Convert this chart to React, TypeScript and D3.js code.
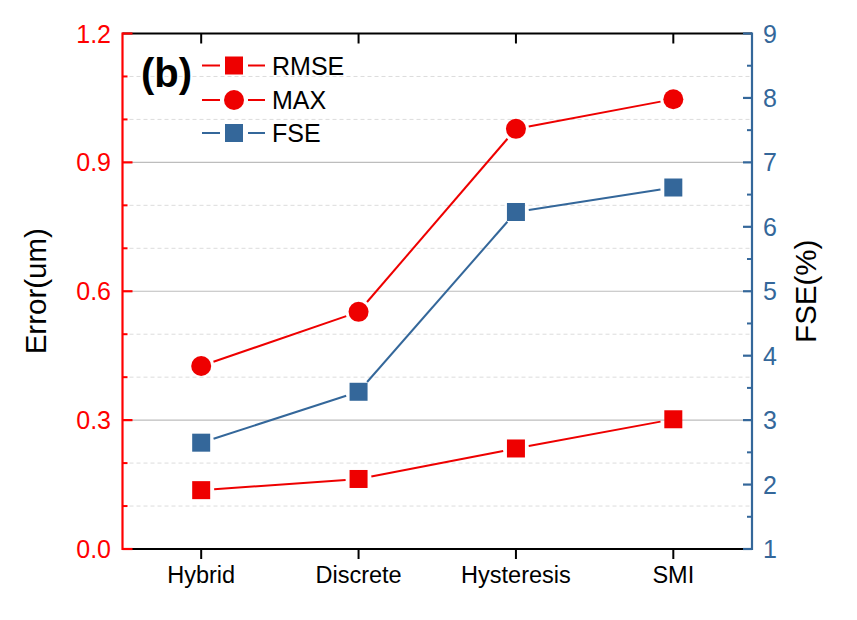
import React from "react";
import * as d3 from "d3";

const categories = ["Hybrid", "Discrete", "Hysteresis", "SMI"];
const rmse = [0.137, 0.163, 0.234, 0.302];
const maxErr = [0.426, 0.552, 0.978, 1.047];
const fse = [2.65, 3.44, 6.23, 6.61];
const leftTicks = [0, 0.3, 0.6, 0.9, 1.2];
const leftMinor = [0.1, 0.2, 0.4, 0.5, 0.7, 0.8, 1.0, 1.1];
const rightTicks = [1, 2, 3, 4, 5, 6, 7, 8, 9];
const rightMinor = [1.5, 2.5, 3.5, 4.5, 5.5, 6.5, 7.5, 8.5];

const W = 857, H = 620;
const L = 122.5, R = 752, T = 33.5, B = 549;
const RED = "#EE0000";
const AXRED = "#FF0000";
const BLUE = "#34679A";
const FONT = "'Liberation Sans', Arial, sans-serif";

function gappedSegments(pts: [number, number][], gap: number) {
  const segs: [number, number, number, number][] = [];
  for (let i = 0; i < pts.length - 1; i++) {
    const [x1, y1] = pts[i];
    const [x2, y2] = pts[i + 1];
    const dx = x2 - x1, dy = y2 - y1;
    const len = Math.hypot(dx, dy);
    const ux = dx / len, uy = dy / len;
    segs.push([x1 + ux * gap, y1 + uy * gap, x2 - ux * gap, y2 - uy * gap]);
  }
  return segs;
}

export default function App() {
  const x = d3.scalePoint<string>().domain(categories).range([L, R]).padding(0.5);
  const yL = d3.scaleLinear().domain([0, 1.2]).range([B, T]);
  const yR = d3.scaleLinear().domain([1, 9]).range([B, T]);

  const ptsR: [number, number][] = categories.map((c, i) => [x(c)!, yL(rmse[i])]);
  const ptsM: [number, number][] = categories.map((c, i) => [x(c)!, yL(maxErr[i])]);
  const ptsF: [number, number][] = categories.map((c, i) => [x(c)!, yR(fse[i])]);
  const gap = 13;
  const sq = 18;

  const legendItems = [
    { label: "RMSE", color: RED, shape: "square", y: 65.5 },
    { label: "MAX", color: RED, shape: "circle", y: 100 },
    { label: "FSE", color: BLUE, shape: "square", y: 133 },
  ];

  return (
    <svg width={W} height={H} style={{ position: "absolute", left: 0, top: 0, background: "#fff" }} fontFamily={FONT}>
      <rect x={0} y={0} width={W} height={H} fill="#fff" />
      {/* minor dashed grid */}
      {leftMinor.map((v) => (
        <line key={"gm" + v} x1={L} x2={R} y1={yL(v)} y2={yL(v)} stroke="#dcdcdc" strokeWidth={1} strokeDasharray="4,3" />
      ))}
      {/* major grid */}
      {leftTicks.filter((v) => v > 0 && v < 1.2).map((v) => (
        <line key={"gM" + v} x1={L} x2={R} y1={yL(v)} y2={yL(v)} stroke="#bdbdbd" strokeWidth={1.2} />
      ))}

      {/* top and bottom axes */}
      <line x1={L} x2={R} y1={T} y2={T} stroke="#000" strokeWidth={2.2} />
      <line x1={L} x2={R} y1={B} y2={B} stroke="#000" strokeWidth={2.2} />
      {categories.map((c) => (
        <g key={"xt" + c}>
          <line x1={x(c)} x2={x(c)} y1={T} y2={T + 10} stroke="#000" strokeWidth={2} />
          <line x1={x(c)} x2={x(c)} y1={B} y2={B + 10} stroke="#000" strokeWidth={2} />
          <text x={x(c)} y={583} textAnchor="middle" fontSize={23.5} fill="#000">{c}</text>
        </g>
      ))}

      {/* left axis */}
      <line x1={L} x2={L} y1={T - 1} y2={B + 1} stroke={AXRED} strokeWidth={2.2} />
      {leftTicks.map((v) => (
        <g key={"lt" + v}>
          <line x1={L} x2={L + 10} y1={yL(v)} y2={yL(v)} stroke={AXRED} strokeWidth={2.2} />
          <text x={111} y={yL(v)} dy="0.36em" textAnchor="end" fontSize={25} fill={AXRED}>{d3.format(".1f")(v)}</text>
        </g>
      ))}
      {leftMinor.map((v) => (
        <line key={"lm" + v} x1={L} x2={L + 5} y1={yL(v)} y2={yL(v)} stroke={AXRED} strokeWidth={2} />
      ))}

      {/* right axis */}
      <line x1={R} x2={R} y1={T - 1} y2={B + 1} stroke={BLUE} strokeWidth={2.2} />
      {rightTicks.map((v) => (
        <g key={"rt" + v}>
          <line x1={R} x2={R - 9} y1={yR(v)} y2={yR(v)} stroke={BLUE} strokeWidth={2.2} />
          <text x={763} y={yR(v)} dy="0.36em" textAnchor="start" fontSize={25} fill={BLUE}>{v}</text>
        </g>
      ))}
      {rightMinor.map((v) => (
        <line key={"rm" + v} x1={R} x2={R - 5} y1={yR(v)} y2={yR(v)} stroke={BLUE} strokeWidth={2} />
      ))}

      {/* axis titles */}
      <text transform={`translate(46,${(T + B) / 2}) rotate(-90)`} textAnchor="middle" fontSize={29.5} fill="#000">Error(um)</text>
      <text transform={`translate(816,${(T + B) / 2}) rotate(-90)`} textAnchor="middle" fontSize={29.5} fill="#000">FSE(%)</text>

      {/* series lines */}
      {gappedSegments(ptsR, gap).map((s, i) => (
        <line key={"sr" + i} x1={s[0]} y1={s[1]} x2={s[2]} y2={s[3]} stroke={RED} strokeWidth={2} />
      ))}
      {gappedSegments(ptsM, gap).map((s, i) => (
        <line key={"sm" + i} x1={s[0]} y1={s[1]} x2={s[2]} y2={s[3]} stroke={RED} strokeWidth={2} />
      ))}
      {gappedSegments(ptsF, gap).map((s, i) => (
        <line key={"sf" + i} x1={s[0]} y1={s[1]} x2={s[2]} y2={s[3]} stroke={BLUE} strokeWidth={2} />
      ))}
      {/* markers */}
      {ptsR.map((p, i) => (
        <rect key={"mr" + i} x={p[0] - sq / 2} y={p[1] - sq / 2} width={sq} height={sq} fill={RED} />
      ))}
      {ptsM.map((p, i) => (
        <circle key={"mm" + i} cx={p[0]} cy={p[1]} r={10} fill={RED} />
      ))}
      {ptsF.map((p, i) => (
        <rect key={"mf" + i} x={p[0] - sq / 2} y={p[1] - sq / 2} width={sq} height={sq} fill={BLUE} />
      ))}

      {/* panel label */}
      <text x={141} y={87} fontSize={40} fontWeight="bold" fill="#000">(b)</text>

      {/* legend */}
      {legendItems.map((it) => (
        <g key={"lg" + it.label}>
          <line x1={202} x2={220} y1={it.y} y2={it.y} stroke={it.color} strokeWidth={2} />
          <line x1={248} x2={265} y1={it.y} y2={it.y} stroke={it.color} strokeWidth={2} />
          {it.shape === "square" ? (
            <rect x={234 - sq / 2} y={it.y - sq / 2} width={sq} height={sq} fill={it.color} />
          ) : (
            <circle cx={234} cy={it.y} r={10} fill={it.color} />
          )}
          <text x={272} y={it.y} dy="0.36em" fontSize={25} fill="#000">{it.label}</text>
        </g>
      ))}
    </svg>
  );
}
